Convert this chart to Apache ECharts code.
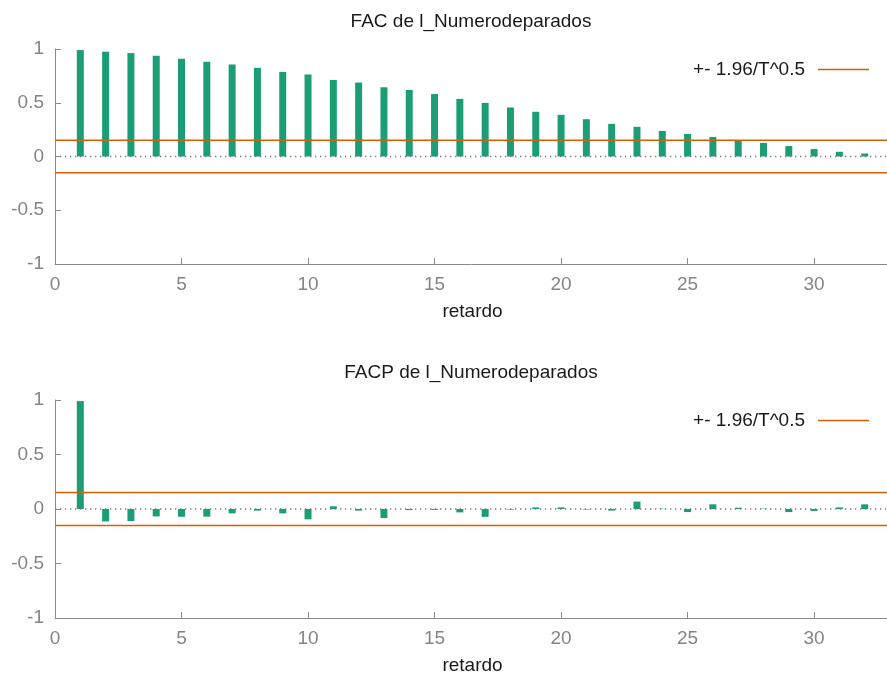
<!DOCTYPE html>
<html>
<head>
<meta charset="utf-8">
<title>FAC / FACP de l_Numerodeparados</title>
<script src="https://cdn.jsdelivr.net/npm/echarts@6/dist/echarts.min.js"></script>
<style>
  html, body { margin: 0; padding: 0; background: #ffffff; }
  #chart { width: 887px; height: 677px; }
</style>
</head>
<body>
<div id="chart"></div>
<script>
// Lags 1..32
const lags = [1, 2, 3, 4, 5, 6, 7, 8, 9, 10, 11, 12, 13, 14, 15, 16,
              17, 18, 19, 20, 21, 22, 23, 24, 25, 26, 27, 28, 29, 30, 31, 32];

// Autocorrelation function (FAC)
const acfValues = [0.990, 0.975, 0.962, 0.937, 0.909, 0.881, 0.856, 0.825,
                   0.787, 0.763, 0.712, 0.688, 0.644, 0.619, 0.581, 0.536,
                   0.499, 0.456, 0.416, 0.388, 0.347, 0.304, 0.276, 0.238,
                   0.210, 0.182, 0.154, 0.126, 0.097, 0.069, 0.044, 0.028];

// Partial autocorrelation function (FACP)
const pacfValues = [0.990, -0.114, -0.110, -0.068, -0.071, -0.070, -0.040, -0.015,
                    -0.040, -0.095, 0.025, -0.015, -0.083, -0.010, -0.008, -0.031,
                    -0.072, -0.005, 0.015, 0.015, -0.005, -0.015, 0.068, 0.003,
                    -0.028, 0.043, 0.012, 0.003, -0.028, -0.018, 0.015, 0.043];

// Significance band +- 1.96/T^0.5
const band = 0.151;
const bandName = '+- 1.96/T^0.5';

// Axis ranges and ticks
const xMin = 0, xMax = 33, xStep = 5;
const yMin = -1, yMax = 1, yStep = 0.5;

const titles = ['FAC de l_Numerodeparados', 'FACP de l_Numerodeparados'];
const xName = 'retardo';

const FONT = '"Liberation Sans", Arial, Helvetica, sans-serif';
const FS = 19;
const GREEN = '#1b9e77';
const ORANGE = '#d95f02';
const AXIS_GRAY = '#8a8a8a';
const LABEL_GRAY = '#858585';

const chart = echarts.init(document.getElementById('chart'), null, { renderer: 'canvas' });

// The plot area runs slightly past the right edge of the canvas
const grids = [
  { left: 55, right: -3, top: 49, height: 215, outerBoundsMode: 'none', containLabel: false },
  { left: 55, right: -3, top: 400, height: 218, outerBoundsMode: 'none', containLabel: false }
];

function xAxisFor(i) {
  return {
    type: 'value', gridIndex: i, min: xMin, max: xMax, interval: xStep,
    name: xName, nameLocation: 'middle', nameGap: 38,
    nameTextStyle: { color: '#1a1a1a', fontSize: FS, fontFamily: FONT },
    axisLine: { show: true, onZero: false, lineStyle: { color: AXIS_GRAY, width: 1 } },
    axisTick: {
      show: true, inside: true, length: 6, lineStyle: { color: AXIS_GRAY },
      interval: (idx, v) => Number(v) % xStep === 0
    },
    axisLabel: {
      color: LABEL_GRAY, fontSize: FS, fontFamily: FONT, margin: 11,
      formatter: v => (v % xStep === 0 ? String(v) : '')
    },
    splitLine: { show: false }
  };
}

function yAxisFor(i) {
  return {
    type: 'value', gridIndex: i, min: yMin, max: yMax, interval: yStep,
    axisLine: { show: true, onZero: false, lineStyle: { color: AXIS_GRAY, width: 1 } },
    axisTick: { show: true, inside: true, length: 6, lineStyle: { color: AXIS_GRAY } },
    axisLabel: { color: LABEL_GRAY, fontSize: FS, fontFamily: FONT, margin: 11 },
    splitLine: { show: false }
  };
}

function seriesFor(i, values) {
  const pairs = lags.map((l, k) => [l, values[k]]);
  return [
    {
      type: 'bar', xAxisIndex: i, yAxisIndex: i, data: pairs,
      barWidth: 7, itemStyle: { color: GREEN }, z: 2, silent: true
    },
    {
      // dotted zero reference
      type: 'line', xAxisIndex: i, yAxisIndex: i,
      data: [[xMin, 0], [xMax, 0]], symbol: 'none', silent: true, z: 3,
      lineStyle: { color: '#7a7a7a', width: 1.3, type: [1.3, 3.7] }
    },
    {
      name: bandName, type: 'line', xAxisIndex: i, yAxisIndex: i,
      data: [[xMin, band], [xMax, band]], symbol: 'none', silent: true, z: 4,
      lineStyle: { color: ORANGE, width: 1.5 }, itemStyle: { color: ORANGE }
    },
    {
      name: bandName, type: 'line', xAxisIndex: i, yAxisIndex: i,
      data: [[xMin, -band], [xMax, -band]], symbol: 'none', silent: true, z: 4,
      lineStyle: { color: ORANGE, width: 1.5 }, itemStyle: { color: ORANGE }
    }
  ];
}

const titleTops = [7, 358];
const legendTops = [55, 406];

const option = {
  backgroundColor: '#ffffff',
  animation: false,
  textStyle: { fontFamily: FONT },
  title: titles.map((t, i) => ({
    text: t, left: 466, top: titleTops[i], textAlign: 'center',
    textStyle: { color: '#1a1a1a', fontSize: FS, fontWeight: 'normal', fontFamily: FONT }
  })),
  legend: legendTops.map(top => ({
    data: [bandName], right: 13, top: top, align: 'right',
    icon: 'rect', itemWidth: 51, itemHeight: 1.5, selectedMode: false,
    itemStyle: { color: ORANGE },
    textStyle: { color: '#1a1a1a', fontSize: FS, fontFamily: FONT, padding: [0, 8, 0, 0] }
  })),
  grid: grids,
  xAxis: [xAxisFor(0), xAxisFor(1)],
  yAxis: [yAxisFor(0), yAxisFor(1)],
  series: [...seriesFor(0, acfValues), ...seriesFor(1, pacfValues)]
};

chart.setOption(option);
</script>
</body>
</html>
